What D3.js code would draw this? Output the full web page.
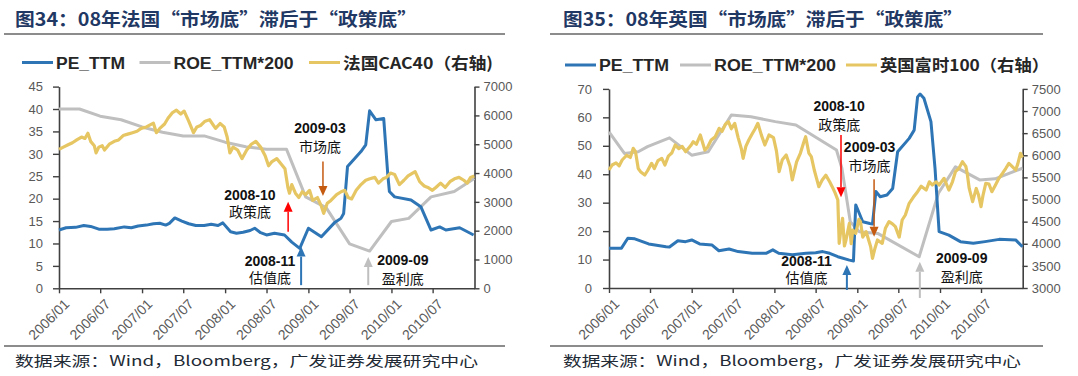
<!DOCTYPE html>
<html><head><meta charset="utf-8">
<script src="https://cdn.jsdelivr.net/npm/d3@7/dist/d3.min.js"></script>
<style>body{margin:0;background:#fff}svg{display:block}</style>
</head><body>
<svg id="c" width="1078" height="376"></svg>
<script>
// ---------------- DATA ----------------
const xTickDates = ["2006-01-01","2006-07-01","2007-01-01","2007-07-01","2008-01-01","2008-07-01","2009-01-01","2009-07-01","2010-01-01","2010-07-01"];
const frLeftTicks = [0,5,10,15,20,25,30,35,40,45];
const frRightTicks = [0,1000,2000,3000,4000,5000,6000,7000];
const ukLeftTicks = [0,10,20,30,40,50,60,70];
const ukRightTicks = [3000,3500,4000,4500,5000,5500,6000,6500,7000,7500];

const frTitle = "图34：08年法国“市场底”滞后于“政策底”";
const ukTitle = "图35：08年英国“市场底”滞后于“政策底”";
const frLegend = ["PE_TTM","ROE_TTM*200","法国CAC40（右轴)"];
const ukLegend = ["PE_TTM","ROE_TTM*200","英国富时100（右轴）"];
const sourceText = "数据来源：Wind，Bloomberg，广发证券发展研究中心";

const frPE = [["2006-01-01",13.0],["2006-02-01",13.5],["2006-03-15",13.6],["2006-04-20",14.0],["2006-05-20",13.8],["2006-06-25",13.2],["2006-08-01",13.2],["2006-09-01",13.3],["2006-10-15",13.7],["2006-11-15",13.5],["2006-12-15",13.9],["2007-01-20",14.1],["2007-02-20",14.4],["2007-03-20",14.5],["2007-04-15",14.1],["2007-05-01",14.5],["2007-05-25",15.7],["2007-06-25",15.0],["2007-07-25",14.4],["2007-08-25",14.0],["2007-10-01",14.0],["2007-11-01",14.3],["2007-12-01",14.0],["2007-12-22",14.6],["2008-01-25",12.6],["2008-02-20",12.3],["2008-03-20",12.5],["2008-04-20",12.9],["2008-05-10",13.4],["2008-06-05",12.4],["2008-07-01",11.9],["2008-08-05",12.3],["2008-09-18",11.9],["2008-10-20",10.3],["2008-11-24",8.9],["2009-01-01",13.4],["2009-02-27",11.5],["2009-04-25",14.6],["2009-05-24",15.6],["2009-06-05",16.7],["2009-06-22",27.2],["2009-08-20",30.5],["2009-09-10",32.0],["2009-09-27",39.6],["2009-10-25",37.6],["2009-11-28",37.9],["2009-12-16",25.3],["2009-12-23",21.6],["2010-01-15",20.4],["2010-03-28",19.7],["2010-05-10",18.2],["2010-06-24",13.0],["2010-08-01",13.7],["2010-08-28",13.0],["2010-10-28",13.5],["2010-12-28",11.9]];

const frROE = [["2006-01-01",40.0],["2006-04-01",40.0],["2006-07-01",38.4],["2006-10-01",37.6],["2007-01-01",36.0],["2007-04-01",34.8],["2007-07-01",34.0],["2007-10-01",34.0],["2008-01-01",32.6],["2008-04-01",31.6],["2008-07-01",31.0],["2008-09-27",31.0],["2008-12-20",20.4],["2009-03-20",18.0],["2009-07-01",9.9],["2009-09-27",8.3],["2010-01-01",14.9],["2010-03-18",15.6],["2010-06-24",20.4],["2010-10-04",21.6],["2010-12-31",24.5]];

const frCAC = [["2006-01-01",4820],["2006-01-20",4900],["2006-02-10",4980],["2006-03-01",5050],["2006-03-20",5150],["2006-04-10",5250],["2006-04-25",5200],["2006-05-08",5380],["2006-05-20",5100],["2006-06-05",4950],["2006-06-13",4700],["2006-06-25",4900],["2006-07-10",4950],["2006-07-20",4800],["2006-08-10",5000],["2006-09-01",5100],["2006-09-20",5150],["2006-10-10",5300],["2006-10-30",5350],["2006-11-20",5400],["2006-12-10",5450],["2006-12-28",5550],["2007-01-20",5600],["2007-02-20",5730],["2007-03-05",5400],["2007-03-20",5550],["2007-04-10",5700],["2007-04-25",5900],["2007-05-15",6100],["2007-06-01",6180],["2007-06-20",6050],["2007-07-05",6150],["2007-07-25",5800],["2007-08-15",5400],["2007-08-30",5600],["2007-09-15",5650],["2007-10-05",5800],["2007-10-25",5850],["2007-11-20",5550],["2007-12-10",5720],["2007-12-28",5600],["2008-01-10",5250],["2008-01-22",4700],["2008-02-05",4900],["2008-02-25",4800],["2008-03-15",4500],["2008-04-05",4800],["2008-04-25",5000],["2008-05-15",5100],["2008-06-05",4900],["2008-06-25",4600],["2008-07-10",4250],["2008-07-25",4400],["2008-08-15",4500],["2008-09-05",4300],["2008-09-20",4150],["2008-10-03",3500],["2008-10-10",3300],["2008-10-20",3600],["2008-11-05",3300],["2008-11-20",3150],["2008-12-05",3350],["2008-12-20",3250],["2009-01-06",3400],["2009-01-20",3050],["2009-02-10",3150],["2009-02-27",2850],["2009-03-09",2600],["2009-03-25",2950],["2009-04-10",3050],["2009-05-05",3250],["2009-05-25",3350],["2009-06-10",3400],["2009-06-25",3150],["2009-07-10",3100],["2009-07-30",3400],["2009-08-20",3600],["2009-09-10",3750],["2009-09-28",3800],["2009-10-20",3850],["2009-11-05",3650],["2009-11-25",3800],["2009-12-10",3850],["2009-12-28",4000],["2010-01-15",3950],["2010-02-05",3600],["2010-02-25",3750],["2010-03-15",3900],["2010-04-15",4050],["2010-05-05",3700],["2010-05-25",3550],["2010-06-10",3500],["2010-06-30",3400],["2010-07-15",3500],["2010-08-05",3650],["2010-08-25",3500],["2010-09-15",3700],["2010-10-05",3800],["2010-10-25",3850],["2010-11-15",3750],["2010-11-30",3650],["2010-12-15",3850],["2010-12-31",3900]];

const ukPE = [["2006-01-01",14.0],["2006-02-25",14.0],["2006-03-25",17.5],["2006-04-25",17.3],["2006-06-25",15.5],["2006-09-10",14.5],["2006-09-25",14.4],["2006-11-01",16.6],["2006-12-05",16.3],["2007-01-01",16.9],["2007-02-05",15.5],["2007-04-01",15.1],["2007-05-01",13.1],["2007-06-15",13.7],["2007-07-25",12.8],["2007-09-25",12.2],["2007-11-25",12.2],["2007-12-25",13.4],["2008-01-20",12.2],["2008-03-20",11.7],["2008-05-20",12.2],["2008-07-01",12.4],["2008-08-01",12.8],["2008-09-01",12.2],["2008-10-07",11.0],["2008-11-27",9.8],["2008-12-15",9.5],["2008-12-25",29.2],["2009-01-10",26.2],["2009-01-25",23.3],["2009-02-25",22.7],["2009-03-09",22.5],["2009-03-24",33.9],["2009-04-12",32.1],["2009-05-12",32.7],["2009-06-06",35.0],["2009-06-28",47.9],["2009-08-18",52.6],["2009-09-09",55.5],["2009-09-24",67.2],["2009-10-05",68.2],["2009-10-22",66.7],["2009-11-22",58.5],["2009-12-10",42.1],["2009-12-28",19.8],["2010-02-09",18.6],["2010-04-01",16.3],["2010-05-28",15.7],["2010-07-19",16.3],["2010-09-19",17.1],["2010-12-01",16.9],["2010-12-31",14.5]];

const ukROE = [["2006-01-01",54.9],["2006-03-10",47.3],["2006-05-10",47.9],["2006-06-20",49.7],["2006-09-25",52.8],["2007-01-01",46.7],["2007-03-15",47.9],["2007-06-25",60.8],["2007-09-20",60.2],["2008-01-05",58.5],["2008-04-05",57.3],["2008-10-01",48.5],["2008-10-25",42.1],["2008-12-01",23.3],["2009-01-10",19.8],["2009-04-01",19.2],["2009-10-01",11.0],["2009-12-25",33.3],["2010-03-10",42.6],["2010-06-25",38.0],["2010-09-01",38.4],["2010-12-31",42.1]];

const ukFTSE = [["2006-01-01",5667],["2006-01-15",5780],["2006-02-01",5830],["2006-02-15",5760],["2006-02-28",5893],["2006-03-20",6000],["2006-04-05",5950],["2006-04-18",6157],["2006-04-28",6080],["2006-05-10",5700],["2006-05-20",5629],["2006-06-08",5554],["2006-06-20",5650],["2006-07-08",5818],["2006-07-20",5700],["2006-08-05",5880],["2006-08-22",5931],["2006-09-05",5780],["2006-09-20",5980],["2006-10-05",6050],["2006-10-20",6232],["2006-11-05",6150],["2006-11-20",6200],["2006-12-05",6080],["2006-12-28",6220],["2007-01-08",6306],["2007-01-22",6250],["2007-02-08",6458],["2007-02-28",6119],["2007-03-12",6180],["2007-03-28",6345],["2007-04-15",6420],["2007-05-02",6609],["2007-05-15",6540],["2007-05-30",6700],["2007-06-12",6758],["2007-06-25",6600],["2007-07-10",6720],["2007-07-25",6400],["2007-08-08",6150],["2007-08-16",5931],["2007-08-28",6200],["2007-09-10",6345],["2007-09-22",6458],["2007-10-08",6600],["2007-10-20",6722],["2007-11-05",6450],["2007-11-20",6232],["2007-12-08",6458],["2007-12-28",6400],["2008-01-10",6100],["2008-01-22",5629],["2008-02-05",5900],["2008-02-22",6006],["2008-03-10",5750],["2008-03-20",5441],["2008-04-08",5850],["2008-04-25",6050],["2008-05-10",6300],["2008-05-18",6420],["2008-06-01",6050],["2008-06-12",5968],["2008-06-25",5667],["2008-07-15",5290],["2008-07-30",5441],["2008-08-15",5550],["2008-09-01",5400],["2008-09-12",5290],["2008-09-25",5150],["2008-10-07",4989],["2008-10-13",4010],["2008-10-20",4300],["2008-10-28",4575],["2008-11-05",3950],["2008-11-12",4085],["2008-11-27",4462],["2008-12-05",4000],["2008-12-12",4311],["2008-12-25",4236],["2009-01-08",4550],["2009-01-15",4500],["2009-01-25",4150],["2009-02-09",4273],["2009-03-01",3934],["2009-03-09",3671],["2009-03-20",3900],["2009-03-31",4085],["2009-04-21",4010],["2009-05-05",4350],["2009-05-21",4500],["2009-06-05",4450],["2009-06-18",4386],["2009-07-05",4150],["2009-07-18",4537],["2009-08-01",4650],["2009-08-18",4914],["2009-09-05",5050],["2009-09-24",5177],["2009-10-10",5300],["2009-11-01",5215],["2009-11-15",5400],["2009-11-28",5328],["2009-12-15",5400],["2009-12-28",5328],["2010-01-19",5479],["2010-02-09",5215],["2010-02-25",5400],["2010-03-10",5629],["2010-03-25",5700],["2010-04-10",5855],["2010-04-25",5750],["2010-05-01",5592],["2010-05-10",5250],["2010-05-25",4951],["2010-06-10",5250],["2010-06-20",5100],["2010-07-01",4838],["2010-07-10",5100],["2010-07-22",5366],["2010-08-05",5350],["2010-08-18",5177],["2010-08-31",5300],["2010-09-18",5479],["2010-10-05",5600],["2010-10-18",5700],["2010-11-01",5818],["2010-11-15",5750],["2010-12-01",5667],["2010-12-10",5800],["2010-12-22",6044],["2010-12-31",5950]];

// annotations: arrow date, arrow from/to (left-axis units), text date, text baselines (left-axis units)
const frNotes = [
  {kind:"policy", date:"2008-10-04", from:12.6, to:19.3, textDate:"2008-04-19", lines:["2008-10","政策底"], textVals:[19.7,15.8]},
  {kind:"market", date:"2009-03-06", from:28.3, to:20.6, textDate:"2009-02-21", lines:["2009-03","市场底"], textVals:[34.7,30.3]},
  {kind:"valuation", date:"2008-11-30", from:0.7, to:9.3, textDate:"2008-07-16", lines:["2008-11","估值底"], textVals:[5.0,1.1]},
  {kind:"profit", date:"2009-09-21", from:0.7, to:7.0, textDate:"2010-02-20", lines:["2009-09","盈利底"], textVals:[5.2,0.9]}
];
const ukNotes = [
  {kind:"policy", date:"2008-10-21", from:53.8, to:31.9, textDate:"2008-10-13", lines:["2008-10","政策底"], textVals:[62.3,55.5]},
  {kind:"market", date:"2009-03-16", from:38.2, to:18.0, textDate:"2009-02-24", lines:["2009-03","市场底"], textVals:[47.9,41.1]},
  {kind:"valuation", date:"2008-11-16", from:-0.7, to:8.1, textDate:"2008-05-22", lines:["2008-11","估值底"], textVals:[7.7,1.65]},
  {kind:"profit", date:"2009-10-04", from:-3.5, to:9.2, textDate:"2010-04-07", lines:["2009-09","盈利底"], textVals:[8.9,2.2]}
];

// ---------------- STYLE ----------------
const C = {pe:"#2E75B6", roe:"#BFBFBF", idx:"#E6C663", axis:"#404040", tick:"#595959", title:"#1F3864"};
const noteColor = {policy:"#FF0000", market:"#C55A11", valuation:"#2E75B6", profit:"#BFBFBF"};
const noteWidth = {policy:1.5, market:1.5, valuation:2, profit:2};
const LATIN = "'Liberation Sans', Arial, sans-serif";
const CJK = "'Noto Sans CJK SC', 'Liberation Sans', sans-serif";
const parse = d3.timeParse("%Y-%m-%d");
const svg = d3.select("#c");

function drawChart(o) {
  const g = svg.append("g");
  const x = d3.scaleTime().domain([parse("2006-01-01"), parse("2011-01-01")]).range([o.x0, o.x1]);
  const yL = d3.scaleLinear().domain(o.lDom).range([o.yB, o.yT]);
  const yR = d3.scaleLinear().domain(o.rDom).range([o.yB, o.yT]);

  // title + rules
  g.append("text").attr("x", o.titleX).attr("y", 25.5).text(o.title)
    .attr("font-family", CJK).attr("font-weight", "bold").attr("font-size", 18).attr("fill", C.title)
    .attr("textLength", o.titleW).attr("lengthAdjust", "spacingAndGlyphs");
  g.append("line").attr("x1", o.ruleX0).attr("x2", o.ruleX1).attr("y1", 34).attr("y2", 34).attr("stroke", "#1a1a1a").attr("stroke-width", 1.2);
  g.append("line").attr("x1", o.ruleX0).attr("x2", o.ruleX1).attr("y1", 346).attr("y2", 346).attr("stroke", "#1a1a1a").attr("stroke-width", 1.2);
  g.append("text").attr("x", o.titleX).attr("y", 366).text(sourceText)
    .attr("font-family", CJK).attr("font-size", 14).attr("fill", "#222a35")
    .attr("textLength", o.srcW).attr("lengthAdjust", "spacingAndGlyphs");

  // legend
  const cols = [C.pe, C.roe, C.idx];
  o.legend.forEach((lab, i) => {
    const it = o.legItems[i];
    g.append("line").attr("x1", it[0]).attr("x2", it[0] + 31).attr("y1", o.legY).attr("y2", o.legY)
      .attr("stroke", cols[i]).attr("stroke-width", 3);
    g.append("text").attr("x", it[0] + 34).attr("y", o.legY + 6).text(lab)
      .attr("font-family", i === 2 ? CJK : LATIN).attr("font-weight", "bold").attr("font-size", 16).attr("fill", "#262626")
      .attr("textLength", it[1]).attr("lengthAdjust", "spacingAndGlyphs");
  });

  // axes
  const styleAxis = (sel) => {
    sel.select(".domain").attr("stroke", C.axis).attr("stroke-width", 1.6);
    sel.selectAll(".tick line").attr("stroke", C.axis).attr("stroke-width", 1.4);
    sel.selectAll(".tick text").attr("fill", C.tick).attr("font-family", LATIN).attr("font-size", 13);
  };
  const ax = g.append("g").attr("transform", `translate(0,${o.yB})`)
    .call(d3.axisBottom(x).tickValues(xTickDates.map(parse)).tickFormat(d3.timeFormat("%Y/%m")).tickSize(5).tickSizeOuter(0));
  styleAxis(ax);
  ax.selectAll(".tick text").attr("text-anchor", "end").attr("dy", 0).attr("dx", 0).attr("font-size", 14)
    .attr("transform", "translate(5,11) rotate(-45)");
  const al = g.append("g").attr("transform", `translate(${o.x0},0)`)
    .call(d3.axisLeft(yL).tickValues(o.lTicks).tickSize(6).tickPadding(o.lPad).tickSizeOuter(0));
  styleAxis(al);
  const ar = g.append("g").attr("transform", `translate(${o.x1},0)`)
    .call(d3.axisRight(yR).tickValues(o.rTicks).tickFormat(d3.format("d")).tickSize(5).tickPadding(4).tickSizeOuter(0));
  styleAxis(ar);

  // series
  const lineL = d3.line().x(d => x(parse(d[0]))).y(d => yL(d[1]));
  const lineR = d3.line().x(d => x(parse(d[0]))).y(d => yR(d[1]));
  g.append("path").datum(o.roe).attr("d", lineL).attr("fill", "none").attr("stroke", C.roe).attr("stroke-width", 3).attr("stroke-linejoin", "round");
  g.append("path").datum(o.pe).attr("d", lineL).attr("fill", "none").attr("stroke", C.pe).attr("stroke-width", 3).attr("stroke-linejoin", "round");
  g.append("path").datum(o.idx).attr("d", lineR).attr("fill", "none").attr("stroke", C.idx).attr("stroke-width", 3.2).attr("stroke-linejoin", "round");

  // annotations
  o.notes.forEach(n => {
    const col = noteColor[n.kind];
    const ax0 = x(parse(n.date));
    const y0 = yL(n.from), y1 = yL(n.to);
    const dir = y1 < y0 ? 1 : -1;         // +1: arrow points up
    const hl = 10, hw = 4.5;
    g.append("line").attr("x1", ax0).attr("x2", ax0).attr("y1", y0).attr("y2", y1 + dir * hl)
      .attr("stroke", col).attr("stroke-width", noteWidth[n.kind]);
    g.append("path").attr("d", `M${ax0},${y1} L${ax0 - hw},${y1 + dir * hl} L${ax0 + hw},${y1 + dir * hl} Z`).attr("fill", col);
    const tx = x(parse(n.textDate));
    g.append("text").attr("x", tx).attr("y", yL(n.textVals[0])).attr("text-anchor", "middle").text(n.lines[0])
      .attr("font-family", LATIN).attr("font-weight", "bold").attr("font-size", 14).attr("fill", "#111");
    g.append("text").attr("x", tx).attr("y", yL(n.textVals[1])).attr("text-anchor", "middle").text(n.lines[1])
      .attr("font-family", CJK).attr("font-size", 14).attr("fill", "#111");
  });
}

drawChart({
  x0: 59, x1: 474.5, yB: 288.3, yT: 86.6, lDom: [0, 45], rDom: [0, 7000],
  lTicks: frLeftTicks, rTicks: frRightTicks, lPad: 10,
  title: frTitle, titleX: 15, titleW: 402, srcW: 463, ruleX0: 4, ruleX1: 505,
  legend: frLegend, legY: 62.5, legItems: [[22, 69], [139.5, 120], [309, 150]],
  pe: frPE, roe: frROE, idx: frCAC, notes: frNotes
});
drawChart({
  x0: 609, x1: 1022.7, yB: 288, yT: 88.9, lDom: [0, 70], rDom: [3000, 7500],
  lTicks: ukLeftTicks, rTicks: ukRightTicks, lPad: 11,
  title: ukTitle, titleX: 563, titleW: 400, srcW: 458, ruleX0: 550, ruleX1: 1043,
  legend: ukLegend, legY: 65, legItems: [[565, 70], [680, 122], [846, 169]],
  pe: ukPE, roe: ukROE, idx: ukFTSE, notes: ukNotes
});
</script>
</body></html>
